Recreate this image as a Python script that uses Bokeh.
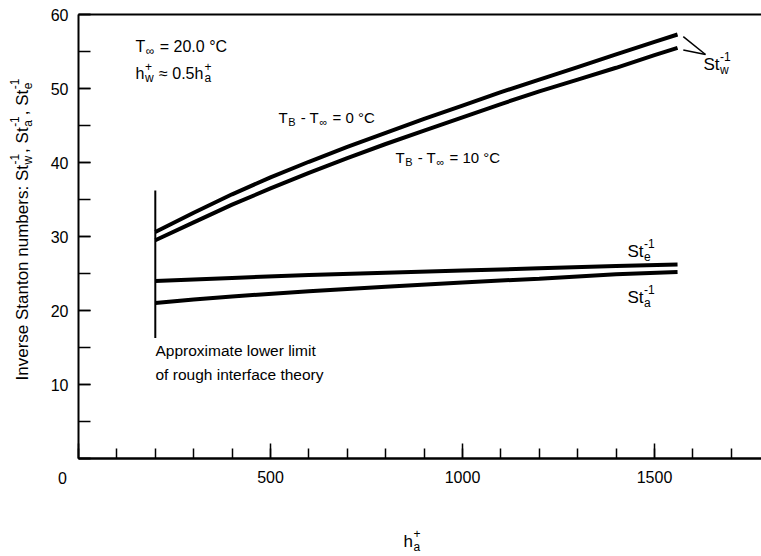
import math
from bokeh.plotting import figure
from bokeh.models import Range1d, SingleIntervalTicker, FixedTicker, Label, LinearAxis
from bokeh.embed import file_html
from bokeh.resources import INLINE

# ---------------- data ----------------
h_w = [200, 300, 400, 500, 600, 700, 800, 900, 1000, 1100, 1200, 1300, 1400, 1500, 1560]
st_w_0 = [30.6, 33.2, 35.7, 38.0, 40.1, 42.1, 44.0, 45.9, 47.7, 49.5, 51.2, 52.9, 54.6, 56.3, 57.3]
st_w_10 = [29.5, 31.9, 34.3, 36.5, 38.6, 40.6, 42.5, 44.3, 46.1, 47.9, 49.6, 51.2, 52.8, 54.5, 55.5]
h_ea = [200, 300, 400, 600, 800, 1000, 1200, 1400, 1560]
st_e = [24.0, 24.2, 24.4, 24.8, 25.1, 25.4, 25.7, 26.0, 26.2]
st_a = [21.0, 21.5, 21.9, 22.6, 23.2, 23.8, 24.3, 24.9, 25.2]
limit_h = 200
limit_span = [16.3, 36.2]
x_ticks_interval = 500
y_ticks_interval = 10
y_top = 60

FONT = "Liberation Sans"
W, H = 761, 556
# pixel geometry of the reference frame
PX_X0, PX_Y0, PX_YTOP = 78, 458, 14
SY = (PX_Y0 - PX_YTOP) / y_top
SX = 0.384
XMAX = (W - PX_X0) / SX

p = figure(width=W, height=H,
           x_range=Range1d(-PX_X0 / SX, XMAX),
           y_range=Range1d((PX_Y0 - H) / SY, PX_Y0 / SY),
           x_axis_location=None, y_axis_location=None,
           output_backend="svg", toolbar_location=None,
           min_border_left=0, min_border_right=0, min_border_top=0, min_border_bottom=0)
p.outline_line_color = None
for g in p.grid:
    g.visible = False
p.background_fill_color = "white"
p.border_fill_color = "white"

xax = LinearAxis(fixed_location=0, bounds=(0, XMAX),
                 ticker=SingleIntervalTicker(interval=x_ticks_interval, num_minor_ticks=5))
yax = LinearAxis(fixed_location=0, bounds=(0, y_top),
                 ticker=SingleIntervalTicker(interval=y_ticks_interval, num_minor_ticks=2))
for ax, tin, mtin, lw_ in [(xax, 15, 10, 2.5), (yax, 12, 12, 2)]:
    ax.axis_line_width = lw_
    ax.axis_line_color = "black"
    ax.major_tick_in = tin
    ax.major_tick_out = 0
    ax.minor_tick_in = mtin
    ax.minor_tick_out = 0
    ax.major_tick_line_width = 1.5
    ax.minor_tick_line_width = 1.5
    ax.major_label_text_font = FONT
    ax.major_label_text_font_size = "16px"
    ax.major_label_text_color = "black"
    ax.major_label_overrides = {0: ""}
xax.major_label_standoff = 12
yax.major_label_standoff = 10
p.add_layout(xax, "below")
p.add_layout(yax, "left")
top = LinearAxis(fixed_location=y_top, bounds=(0, XMAX), ticker=FixedTicker(ticks=[]),
                 axis_line_width=2, axis_line_color="black")
p.add_layout(top, "above")

# curves
lw = 4
p.line(h_w, st_w_0, line_color="black", line_width=lw)
p.line(h_w, st_w_10, line_color="black", line_width=lw)
p.line(h_ea, st_e, line_color="black", line_width=lw)
p.line(h_ea, st_a, line_color="black", line_width=lw)
p.line([limit_h, limit_h], limit_span, line_color="black", line_width=2)

# ---------------- text helpers ----------------
def dx(px):
    return (px - PX_X0) / SX
def dy(py):
    return (PX_Y0 - py) / SY

# leader ">" from the St_w curve ends to their label
tip = (dx(705), dy(54))
for yv in (st_w_0[-1], st_w_10[-1]):
    p.line([h_w[-1] + 15, tip[0]], [yv - 0.3, tip[1]], line_color="black", line_width=1.5)

WID = {' ': 278, ',': 278, '-': 333, '.': 278, ':': 278, '=': 584, '+': 584, '≈': 584,
       '∞': 713, '−': 584, '°': 400, 'A': 667, 'B': 667, 'C': 722, 'I': 278, 'S': 667,
       'T': 611, 'a': 556, 'b': 556, 'c': 500, 'd': 556, 'e': 556, 'f': 278, 'g': 556,
       'h': 556, 'i': 222, 'l': 222, 'm': 833, 'n': 556, 'o': 556, 'p': 556, 'r': 333,
       's': 500, 't': 278, 'u': 556, 'v': 500, 'w': 722, 'x': 500, 'y': 500}
def tw(s, size):
    return sum(WID.get(c, 556) for c in s) / 1000.0 * size

def put(text, px, py, size, angle=0.0, align="left"):
    p.add_layout(Label(x=dx(px), y=dy(py), text=text, text_font=FONT,
                       text_font_size=f"{size}px", text_color="black",
                       text_align=align, text_baseline="alphabetic", angle=angle))

def rich(segs, px, py, size=15, angle=0.0):
    small = round(size * 0.72)
    along = 0.0
    rot = abs(angle) > 0.1
    def place(text, a, perp, sz):
        lead = len(text) - len(text.lstrip(" "))
        a += tw(" " * lead, sz)
        text = text.strip(" ")
        if rot:
            put(text, px - perp, py - a, sz, angle)
        else:
            put(text, px + a, py - perp, sz)
    for seg in segs:
        if seg[0] == "n":
            place(seg[1], along, 0, size)
            along += tw(seg[1], size)
        else:
            sup, sub = seg[1], seg[2]
            if sup:
                place(sup, along + 0.5, 0.45 * size, small)
            if sub:
                place(sub, along + 0.5, -0.3 * size, small)
            along += max(tw(sup, small), tw(sub, small)) + 1.5

rich([("n", "T"), ("ss", "", "∞"), ("n", " = 20.0 °C")], 135, 46, 16)
rich([("n", "h"), ("ss", "+", "w"), ("n", " ≈ 0.5h"), ("ss", "+", "a")], 135, 73, 16)
rich([("n", "T"), ("ss", "", "B"), ("n", " - T"), ("ss", "", "∞"), ("n", " = 0 °C")], 278, 117, 15)
rich([("n", "T"), ("ss", "", "B"), ("n", " - T"), ("ss", "", "∞"), ("n", " = 10 °C")], 395, 157, 15)
rich([("n", "St"), ("ss", "-1", "w")], 703, 64, 17)
rich([("n", "St"), ("ss", "-1", "e")], 627, 251, 17)
rich([("n", "St"), ("ss", "-1", "a")], 627, 297, 17)
put("Approximate lower limit", 155, 350, 15.5)
put("of rough interface theory", 155, 374, 15.5)
put("0", 62, 477, 16, align="center")
rich([("n", "h"), ("ss", "+", "a")], 403, 541, 17)
rich([("n", "Inverse Stanton numbers: St"), ("ss", "-1", "w"), ("n", ", St"), ("ss", "-1", "a"),
      ("n", ", St"), ("ss", "-1", "e")], 22, 380, 17, angle=math.pi / 2)

open("out.html", "w").write(file_html(p, INLINE))
